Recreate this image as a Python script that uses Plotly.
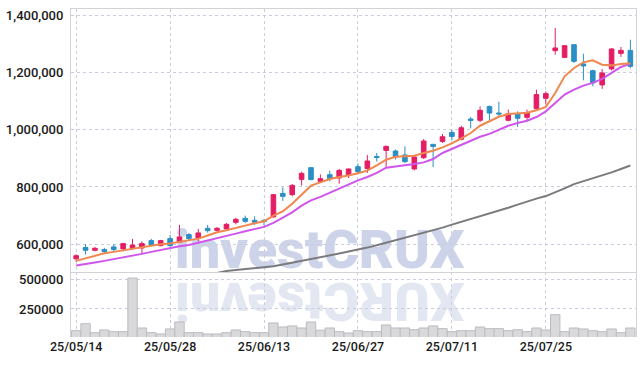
import plotly.graph_objects as go
from plotly.subplots import make_subplots

dates = [
    "25/05/14", "25/05/15", "25/05/16", "25/05/19", "25/05/20", "25/05/21", "25/05/22", "25/05/23",
    "25/05/26", "25/05/27", "25/05/28", "25/05/29", "25/05/30", "25/06/02", "25/06/04", "25/06/05",
    "25/06/09", "25/06/10", "25/06/11", "25/06/12", "25/06/13", "25/06/16", "25/06/17", "25/06/18",
    "25/06/19", "25/06/20", "25/06/23", "25/06/24", "25/06/25", "25/06/26", "25/06/27", "25/06/30",
    "25/07/01", "25/07/02", "25/07/03", "25/07/04", "25/07/07", "25/07/08", "25/07/09", "25/07/10",
    "25/07/11", "25/07/14", "25/07/15", "25/07/16", "25/07/17", "25/07/18", "25/07/21", "25/07/22",
    "25/07/23", "25/07/24", "25/07/25", "25/07/28", "25/07/29", "25/07/30", "25/07/31", "25/08/01",
    "25/08/04", "25/08/05", "25/08/06", "25/08/07",
]

opens = [
    548000, 588000, 578000, 580500, 590000, 583000, 585000, 586000, 612000, 594500,
    619000, 606000, 633000, 620000, 655000, 648000, 653000, 676000, 690000, 683000,
    682000, 695000, 777500, 773000, 826500, 867500, 819500, 843000, 831500, 842000,
    871000, 865000, 907000, 928000, 926000, 912000, 863000, 902500, 949000, 959500,
    991000, 967000, 1038000, 1033500, 1081500, 1059000, 1033500, 1057000, 1044000, 1074500,
    1110500, 1277500, 1254000, 1298500, 1231000, 1207500, 1157500, 1213500, 1268000, 1278500,
]
highs = [
    564000, 600000, 590000, 586500, 600000, 604000, 618000, 609500, 618000, 614500,
    632000, 667000, 639000, 653000, 667000, 660000, 674000, 692500, 699500, 697000,
    688000, 775500, 798500, 810500, 853500, 870000, 844000, 857000, 863000, 865000,
    882000, 912000, 919000, 945500, 931000, 942000, 909500, 968000, 951500, 985500,
    1000500, 1014500, 1045000, 1082000, 1086000, 1099000, 1071000, 1065000, 1071000, 1141000,
    1135000, 1357000, 1297500, 1299500, 1267000, 1211000, 1213500, 1287000, 1290500, 1316000,
]
lows = [
    538000, 563000, 574500, 565500, 573500, 574500, 580500, 565500, 593500, 592000,
    590000, 604000, 609500, 609500, 640000, 643500, 650500, 669000, 674000, 667000,
    664500, 692500, 751000, 767000, 805000, 823000, 817500, 819500, 811500, 831500,
    847000, 849000, 889000, 870000, 896000, 884000, 858000, 898000, 870000, 954000,
    963500, 963500, 1005000, 1026500, 1033500, 1045000, 1030000, 1010000, 1033500, 1071000,
    1088500, 1263500, 1252000, 1234500, 1173500, 1152500, 1143500, 1208500, 1255500, 1215500,
]
closes = [
    559000, 578000, 585000, 573500, 580500, 601500, 596500, 601500, 597000, 612000,
    594500, 625000, 619000, 639000, 647000, 655000, 669000, 686500, 679500, 676000,
    679500, 773000, 767000, 805500, 847500, 826000, 829000, 829000, 858000, 863000,
    853500, 891000, 903000, 942000, 905000, 888500, 905000, 961000, 942000, 976000,
    977000, 1007500, 1033000, 1068500, 1059000, 1056000, 1055500, 1040500, 1060000, 1123500,
    1127000, 1287000, 1295000, 1240000, 1224000, 1164500, 1199500, 1283500, 1278500, 1222500,
]

ma_short = [
    541000, 550000, 559500, 567500, 572500, 578000, 585000, 590000, 594500, 599000,
    601500, 607500, 613000, 619000, 630000, 641000, 648000, 655000, 664500, 672500,
    679500, 699500, 714500, 741500, 773000, 804500, 816000, 828000, 835000, 840000,
    848000, 857000, 875500, 895500, 906000, 907000, 909500, 919000, 927000, 938500,
    952500, 970500, 989000, 1014500, 1030500, 1046000, 1055500, 1058000, 1060000, 1068500,
    1080000, 1129000, 1187500, 1217000, 1236500, 1243500, 1228500, 1226000, 1231000, 1233000,
]
ma_mid = [
    524500, 529000, 535000, 541000, 546500, 552500, 558500, 565500, 572500, 579500,
    587500, 592000, 596500, 604000, 612000, 620000, 627000, 636500, 644500, 651500,
    660000, 674000, 691500, 711000, 734500, 753000, 765000, 780000, 795000, 809000,
    823000, 835000, 849000, 867500, 871000, 875500, 880500, 886000, 898000, 919000,
    933000, 947000, 961000, 976000, 986000, 999000, 1014500, 1024000, 1032000, 1045000,
    1065000, 1094000, 1123500, 1141000, 1155000, 1164500, 1178500, 1199500, 1220500, 1232000,
]
ma_long = [None] * 15 + [
    499000, 505500, 509000, 512000, 515500,
    519000, 522000, 528000, 534000, 540000, 546000, 552500, 559500, 566500, 573500,
    580000, 587500, 596000, 604500, 613000, 621500, 630500, 639500, 648500, 657500,
    668000, 677500, 687000, 696500, 706500, 716000, 727000, 738000, 749000, 759000,
    768000, 781000, 795000, 810000, 820000, 830000, 839000, 851000, 863000, 875000,
]

volumes = [
    69000, 127500, 52500, 75000, 61000, 61000, 508000, 91500, 52500, 41500,
    83500, 141500, 52500, 52500, 41500, 41500, 52500, 75000, 61000, 52500,
    52500, 133500, 100000, 108500, 91500, 141500, 73000, 91500, 61000, 50000,
    69000, 61000, 61000, 116500, 91500, 91500, 77500, 91500, 108500, 86000,
    61000, 69000, 69000, 100000, 86000, 86000, 69000, 77500, 61000, 91500,
    75000, 202500, 61000, 91500, 83500, 69000, 61000, 83500, 52500, 91500,
]

tick_dates = ["25/05/14", "25/05/28", "25/06/13", "25/06/27", "25/07/11", "25/07/25"]
price_ticks = [600000, 800000, 1000000, 1200000, 1400000]
volume_ticks = [250000, 500000]

UP = "#e31e64"
DOWN = "#2b8fc6"
GRID = "#c9cddd"
LINE = "#d3d3d6"
YFONT = dict(family="Roboto, sans-serif", size=13, color="#1a1a1a", weight=500)
XFONT = dict(family="Roboto, sans-serif", size=12.5, color="#1a1a1a", weight=500)
WM = "#cdd3e8"

fig = make_subplots(rows=2, cols=1, shared_xaxes=True, vertical_spacing=0,
                    row_heights=[263, 65])

fig.add_trace(go.Candlestick(
    x=dates, open=opens, high=highs, low=lows, close=closes,
    increasing=dict(line=dict(color=UP, width=1), fillcolor=UP),
    decreasing=dict(line=dict(color=DOWN, width=1), fillcolor=DOWN),
    hoverinfo="skip", showlegend=False,
), row=1, col=1)

fig.add_trace(go.Scatter(x=dates, y=ma_long, mode="lines",
                         line=dict(color="#7b7b7e", width=2), showlegend=False,
                         hoverinfo="skip"), row=1, col=1)
fig.add_trace(go.Scatter(x=dates, y=ma_mid, mode="lines",
                         line=dict(color="#cf55ec", width=2), showlegend=False,
                         hoverinfo="skip"), row=1, col=1)
fig.add_trace(go.Scatter(x=dates, y=ma_short, mode="lines",
                         line=dict(color="#f0874f", width=2), showlegend=False,
                         hoverinfo="skip"), row=1, col=1)

fig.add_trace(go.Bar(x=dates, y=volumes,
                     marker=dict(color="#d9d9dc", line=dict(color="#bcbcc0", width=1)),
                     showlegend=False, hoverinfo="skip"), row=2, col=1)

xcommon = dict(type="category", range=[-0.55, 59.6], showgrid=True, griddash="dot",
               gridcolor=GRID, gridwidth=1, tickvals=tick_dates, ticks="",
               zeroline=False, automargin=False)
fig.update_xaxes(**xcommon, showticklabels=False, showline=True, mirror=True,
                 linecolor=LINE, rangeslider=dict(visible=False), row=1, col=1)
fig.update_xaxes(**xcommon, ticktext=tick_dates, showticklabels=True, tickfont=XFONT,
                 showline=False, row=2, col=1)

ycommon = dict(showgrid=True, griddash="dot", gridcolor=GRID, gridwidth=1,
               showline=True, mirror=True, linecolor=LINE, ticks="", zeroline=False,
               tickfont=YFONT, automargin=False, ticklabelstandoff=4)
fig.update_yaxes(range=[502000, 1423500], tickvals=price_ticks, tickformat=",",
                 **ycommon, row=1, col=1)
fig.update_yaxes(range=[16300, 558600], tickvals=volume_ticks, tickformat="d",
                 **ycommon, row=2, col=1)

wm_family = "Roboto, Liberation Sans, sans-serif"
fig.add_shape(type="rect", xref="x domain", yref="y domain",
              x0=0.0, x1=0.88, y0=-0.073, y1=0.277, layer="below",
              line=dict(width=0), fillcolor="rgba(0,0,0,0)",
              label=dict(text="investCRUX",
                         font=dict(family=wm_family, size=54, color=WM, weight=900),
                         textposition="middle center"))
fig.add_shape(type="rect", xref="x2 domain", yref="y2 domain",
              x0=0.0, x1=0.88, y0=-0.12, y1=1.08, layer="below",
              line=dict(width=0), fillcolor="rgba(0,0,0,0)",
              label=dict(text="XURCtsevni", textangle=180,
                         font=dict(family=wm_family, size=54, color="#e3e7f2", weight=900),
                         textposition="middle center"))

fig.update_layout(
    width=644, height=366,
    margin=dict(l=71, r=8, t=9, b=29),
    paper_bgcolor="white", plot_bgcolor="white",
    bargap=0, showlegend=False, hovermode=False,
)

fig.write_html("out.html", config={"displayModeBar": False, "staticPlot": True},
               post_script="document.body.style.margin='0px';document.body.style.padding='0px';")
